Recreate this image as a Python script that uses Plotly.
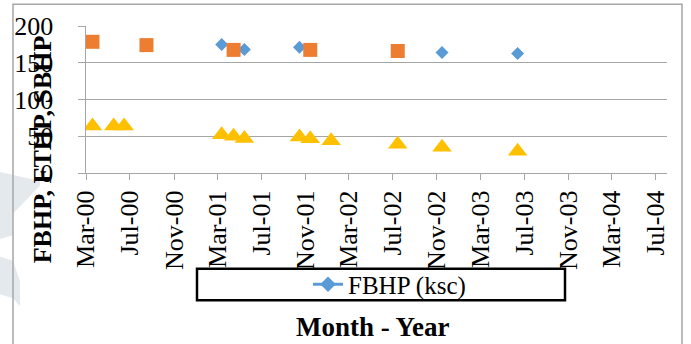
import plotly.graph_objects as go

# ---------------- data ----------------
fbhp_dates = ["2001-03-13", "2001-05-15", "2001-10-15", "2002-11-15", "2003-06-13"]
fbhp_vals = [175, 168, 171, 164, 162.5]

sbhp_dates = ["2000-03-19", "2000-08-16", "2001-04-15", "2001-11-14", "2002-07-15"]
sbhp_vals = [178.5, 174, 167.5, 167.5, 166]

fthp_dates = ["2000-03-19", "2000-05-17", "2000-06-15", "2001-03-13", "2001-04-15",
              "2001-05-15", "2001-10-15", "2001-11-14", "2002-01-11", "2002-07-15",
              "2002-11-15", "2003-06-13"]
fthp_vals = [64, 64, 64, 52, 50, 47, 49, 46.5, 44, 39, 35, 29.5]

series_names = ["FBHP (ksc)", "SBHP (ksc)", "FTHP (ksc)"]
y_title = "FBHP, FTHP, SBHP"
x_title = "Month - Year"

# ---------------- geometry ----------------
W, H = 691, 344
L, R, T, B = 86, 24, 24, 171
PW, PH = W - L - R, H - T - B


def px(x):
    return (x - L) / PW


def py(y):
    return (H - B - y) / PH


FONT = "Liberation Serif"
BLUE, ORANGE, YELLOW = "#5B9BD5", "#ED7D31", "#FFC000"
GRID = "#a6a6a6"

fig = go.Figure()
fig.add_trace(go.Scatter(x=fbhp_dates, y=fbhp_vals, mode="markers", name=series_names[0],
                         marker=dict(symbol="diamond", size=10, color=BLUE), showlegend=False))
fig.add_trace(go.Scatter(x=sbhp_dates, y=sbhp_vals, mode="markers", name=series_names[1],
                         marker=dict(symbol="square", size=14, color=ORANGE), showlegend=False))
fig.add_trace(go.Scatter(x=fthp_dates, y=fthp_vals, mode="markers", name=series_names[2],
                         marker=dict(symbol="triangle-up", size=17, color=YELLOW), showlegend=False))
# legend entry (line + diamond as in the original legend)
fig.add_trace(go.Scatter(x=[None], y=[None], mode="lines+markers", name=series_names[0],
                         line=dict(color=BLUE, width=3),
                         marker=dict(symbol="diamond", size=12, color=BLUE), showlegend=True))


def poly(pts):
    s = "M " + " L ".join(f"{px(x):.4f},{py(y):.4f}" for x, y in pts) + " Z"
    return s


shapes = [
    # watermark fragments
    dict(type="path", xref="paper", yref="paper", layer="below",
         path=poly([(0, 172), (40, 181), (40, 186), (13, 214), (13, 236), (0, 240)]),
         fillcolor="#e4e9ed", line=dict(width=0)),
    dict(type="path", xref="paper", yref="paper", layer="below",
         path=poly([(0, 258), (13, 262), (20, 283), (20, 308), (13, 300), (0, 296)]),
         fillcolor="#e4e9ed", line=dict(width=0)),
    # outer chart border
    dict(type="rect", xref="paper", yref="paper", layer="above",
         x0=px(13), x1=px(682), y0=py(360), y1=py(2),
         line=dict(color="#a6a6a6", width=1.5), fillcolor="rgba(0,0,0,0)"),
    # legend box
    dict(type="rect", xref="paper", yref="paper", layer="above",
         x0=px(197), x1=px(565), y0=py(302), y1=py(270),
         line=dict(color="black", width=2.5), fillcolor="white"),
]

annotations = [
    dict(text=f"<b>{y_title}</b>", xref="paper", yref="paper", x=px(42), y=py(149),
         xanchor="center", yanchor="middle", textangle=-90, showarrow=False,
         font=dict(family=FONT, size=26, color="black")),
    dict(text=f"<b>{x_title}</b>", xref="paper", yref="paper", x=px(372), y=py(329),
         xanchor="center", yanchor="middle", showarrow=False,
         font=dict(family=FONT, size=27, color="black")),
]

fig.update_layout(
    width=W, height=H,
    margin=dict(l=L, r=R, t=T, b=B, pad=0),
    paper_bgcolor="white", plot_bgcolor="white",
    font=dict(family=FONT, size=26, color="black"),
    shapes=shapes, annotations=annotations,
    showlegend=True,
    legend=dict(x=px(308), y=py(286), xanchor="left", yanchor="middle",
                bgcolor="rgba(0,0,0,0)", borderwidth=0,
                font=dict(family=FONT, size=25, color="black")),
    xaxis=dict(type="date", range=["2000-03-01", "2004-08-01"],
               tick0="2000-03-01", dtick="M4", tickformat="%b-%y", tickangle=-90,
               ticks="outside", ticklen=6, tickcolor=GRID, showgrid=False,
               showline=True, linecolor=GRID, linewidth=1.2, zeroline=False,
               tickfont=dict(family=FONT, size=26, color="black")),
    yaxis=dict(range=[0, 200], dtick=50, tick0=0, ticks="outside", ticklen=7,
               tickcolor=GRID, showgrid=True, gridcolor=GRID, gridwidth=1.2,
               showline=True, linecolor=GRID, linewidth=1.2, zeroline=False,
               ticksuffix="\u00a0\u00a0\u00a0",
               tickfont=dict(family=FONT, size=26, color="black")),
)

fig.write_html("out.html")
